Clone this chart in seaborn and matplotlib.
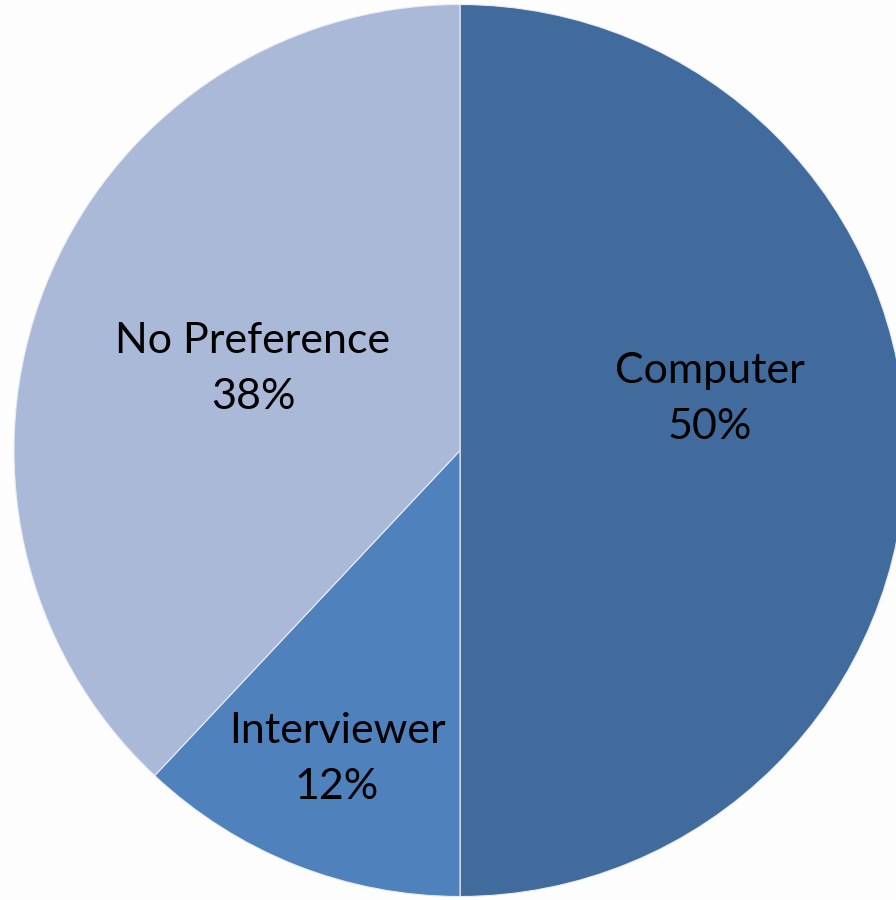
import matplotlib
matplotlib.use("Agg")
import matplotlib.pyplot as plt
import seaborn as sns

# Survey answers: preferred mode of administration
categories = ["Computer", "Interviewer", "No Preference"]
shares = [50, 12, 38]
colors = ["#416B9C", "#4F81BD", "#AAB9D7"]

sns.set_theme(style="white")
plt.rcParams["font.family"] = ["Lato", "DejaVu Sans"]

W, H = 896, 900
fig = plt.figure(figsize=(W / 100, H / 100), dpi=100, facecolor="#FDFDFD")
ax = fig.add_axes([0, 0, 1, 1])
ax.set_facecolor("#FDFDFD")

# pie centre and radius in pixels
cx, cy, r = 460, 450.5, 446

wedges, _ = ax.pie(
    shares,
    colors=colors,
    startangle=90,
    counterclock=False,
    radius=1.0,
    center=(0, 0),
    wedgeprops=dict(edgecolor="#E8EDF5", linewidth=0.8),
    frame=True,
)
ax.set_xlim(-cx / r, (W - cx) / r)
ax.set_ylim(-(H - cy) / r, cy / r)
ax.set_aspect("auto")
ax.axis("off")

# label anchor positions (pixels)
label_px = [(710, 399), (337, 759), (253, 369)]
for name, val, (px, py) in zip(categories, shares, label_px):
    ax.text((px - cx) / r, (cy - py) / r, f"{name}\n{val}%",
            ha="center", va="center", fontsize=31, color="black",
            linespacing=1.6)

fig.savefig("out.png", dpi=100, facecolor=fig.get_facecolor())
